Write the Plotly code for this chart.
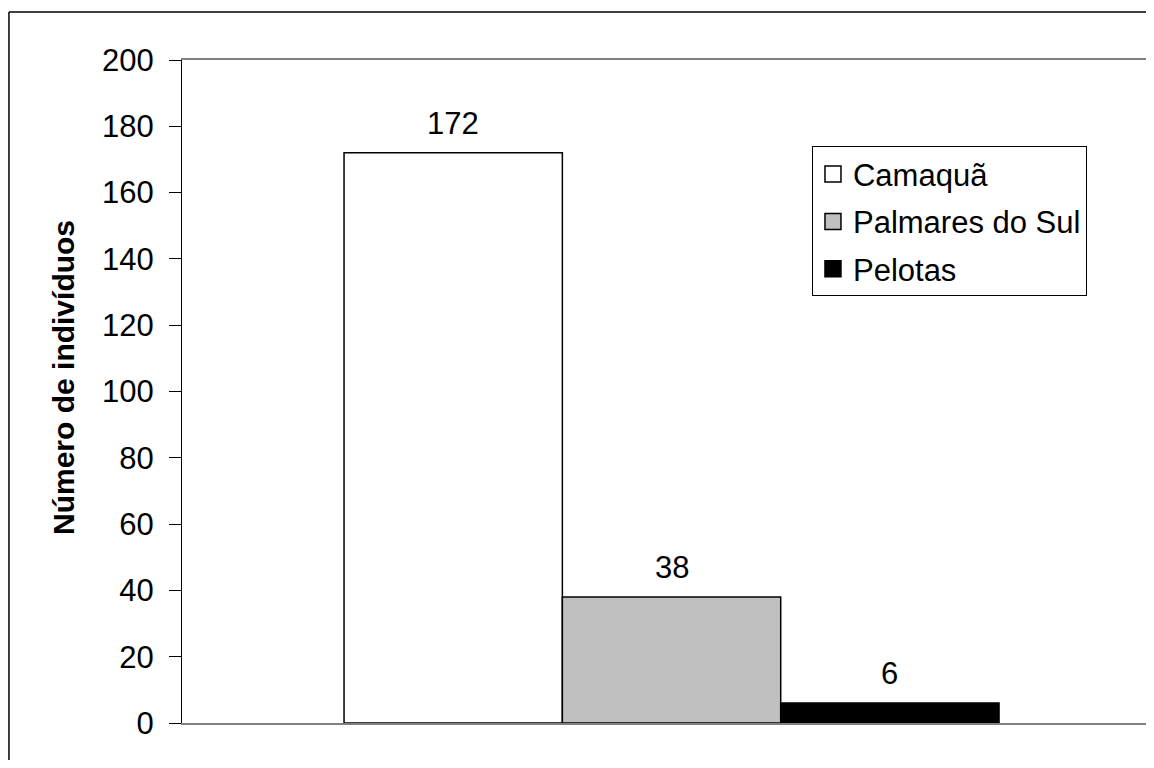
import plotly.graph_objects as go

categories = [""]
series_names = ["Camaquã", "Palmares do Sul", "Pelotas"]
series_values = [172, 38, 6]
series_colors = ["#FFFFFF", "#C0C0C0", "#000000"]
y_ticks = [0, 20, 40, 60, 80, 100, 120, 140, 160, 180, 200]
y_title = "Número de indivíduos"

FONT = "Liberation Sans, Arial, sans-serif"
BARGAP = 0.331

fig = go.Figure()
for i, (name, val, col) in enumerate(zip(series_names, series_values, series_colors)):
    fig.add_trace(go.Bar(
        x=categories, y=[val], name=name,
        marker=dict(color=col, line=dict(color="#000000", width=1.5)),
        legendgroup=name, showlegend=False,
    ))
# legend keys (larger square markers)
for name, col in zip(series_names, series_colors):
    fig.add_trace(go.Scatter(
        x=[None], y=[None], mode="markers", name=name, legendgroup=name,
        marker=dict(symbol="square", size=20, color=col, line=dict(color="#000000", width=1.5)),
        showlegend=True, hoverinfo="skip",
    ))

n = len(series_names)
bw = (1 - BARGAP) / n
annotations = []
for i, val in enumerate(series_values):
    annotations.append(dict(
        x=(i - (n - 1) / 2) * bw, y=val, xref="x", yref="y",
        text=str(val), showarrow=False, yanchor="bottom", yshift=10,
        font=dict(family=FONT, size=31, color="#000000"),
    ))
# y-axis title
annotations.append(dict(
    x=-0.1224, y=0.5204, xref="paper", yref="paper",
    text="<b>" + y_title + "</b>", textangle=-90, showarrow=False,
    xanchor="center", yanchor="middle",
    font=dict(family=FONT, size=30, color="#000000"),
))

border = dict(color="#000000", width=1.5)
fig.update_layout(
    width=1138, height=752,
    margin=dict(l=174, r=0, t=52, b=37),
    paper_bgcolor="#FFFFFF", plot_bgcolor="#FFFFFF",
    barmode="group", bargap=BARGAP, bargroupgap=0,
    font=dict(family=FONT, size=31, color="#000000"),
    showlegend=True,
    legend=dict(
        x=0.6535, y=0.8696, xanchor="left", yanchor="top",
        bgcolor="#FFFFFF", bordercolor="#000000", borderwidth=1,
        font=dict(family=FONT, size=31, color="#000000"),
        traceorder="grouped", tracegroupgap=4,
        itemclick=False, itemdoubleclick=False,
    ),
    annotations=annotations,
    shapes=[
        dict(type="line", xref="paper", yref="paper", x0=-0.1795, x1=-0.1795, y0=-0.06, y1=1.0724,
             line=border, layer="below"),
        dict(type="line", xref="paper", yref="paper", x0=-0.1795, x1=1.0, y0=1.0724, y1=1.0724,
             line=border, layer="below"),
    ],
)

fig.update_xaxes(
    type="category", range=[-0.5, 0.4846],
    showline=True, linecolor="#808080", linewidth=2, mirror=True,
    showticklabels=False, ticks="", showgrid=False, zeroline=False,
)
fig.update_yaxes(
    range=[0, 200], tickvals=y_ticks, ticktext=[str(v) for v in y_ticks],
    ticks="outside", ticklen=12, tickwidth=1, tickcolor="#000000",
    showline=True, linecolor="#000000", linewidth=1,
    showgrid=False, zeroline=False,
    ticklabelstandoff=9,
    tickfont=dict(family=FONT, size=31, color="#000000"),
)

fig.write_html("out.html")
